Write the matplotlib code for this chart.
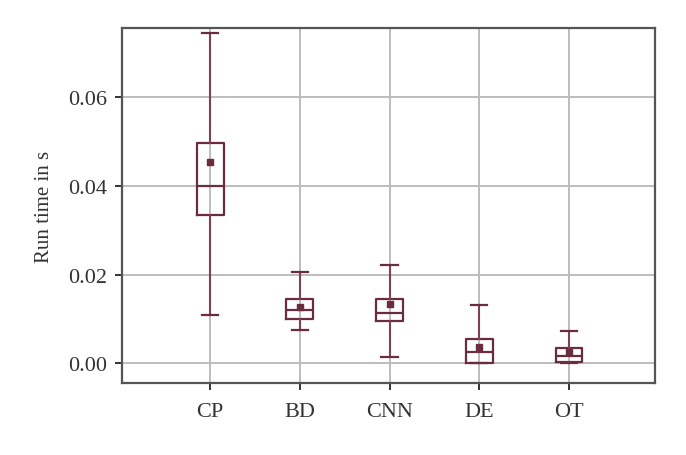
import matplotlib
matplotlib.use("Agg")
import matplotlib.pyplot as plt

plt.rcParams['font.family'] = ['Liberation Serif', 'DejaVu Serif']

categories = ["CP", "BD", "CNN", "DE", "OT"]
whisker_low = [0.0109, 0.0075, 0.0015, 0.0000, 0.0002]
q1 = [0.0334, 0.0101, 0.0095, 0.0000, 0.0004]
median = [0.0399, 0.0121, 0.0114, 0.0025, 0.0017]
mean = [0.0453, 0.0127, 0.0133, 0.0037, 0.0025]
q3 = [0.0497, 0.0144, 0.0144, 0.0056, 0.0034]
whisker_high = [0.0745, 0.0205, 0.0222, 0.0131, 0.0073]

stats = []
for i, c in enumerate(categories):
    stats.append(dict(label=c, whislo=whisker_low[i], q1=q1[i], med=median[i],
                      mean=mean[i], q3=q3[i], whishi=whisker_high[i], fliers=[]))

color = "#6b2d3d"
fig = plt.figure(figsize=(6.86, 4.56), dpi=100)
ax = fig.add_axes([0.178, 0.158, 0.777, 0.778])
ax.grid(True, color="#bdbdbd", linewidth=1.4, zorder=0)
ax.set_axisbelow(True)
ax.bxp(stats, positions=range(1, len(categories) + 1), widths=0.3,
       showmeans=True, patch_artist=False,
       boxprops=dict(color=color, linewidth=1.6),
       whiskerprops=dict(color="#7d4153", linewidth=1.5),
       capprops=dict(color=color, linewidth=1.6),
       medianprops=dict(color=color, linewidth=1.6),
       meanprops=dict(marker='s', markerfacecolor=color, markeredgecolor=color,
                      markersize=4.5),
       capwidths=0.18)
ax.set_xlim(0.02, 5.96)
ax.set_ylim(-0.0044, 0.0755)
ax.set_yticks([0.0, 0.02, 0.04, 0.06])
ax.set_yticklabels(["0.00", "0.02", "0.04", "0.06"])
ax.tick_params(labelsize=16, length=5, width=1.4, pad=6, color="#333333", labelcolor="#333333")
ax.tick_params(axis='x', pad=9)
ax.set_ylabel("Run time in s", fontsize=15, color="#333333", labelpad=10)
for s in ax.spines.values():
    s.set_color("#555555")
    s.set_linewidth(1.6)
fig.savefig("out.png", dpi=100)
